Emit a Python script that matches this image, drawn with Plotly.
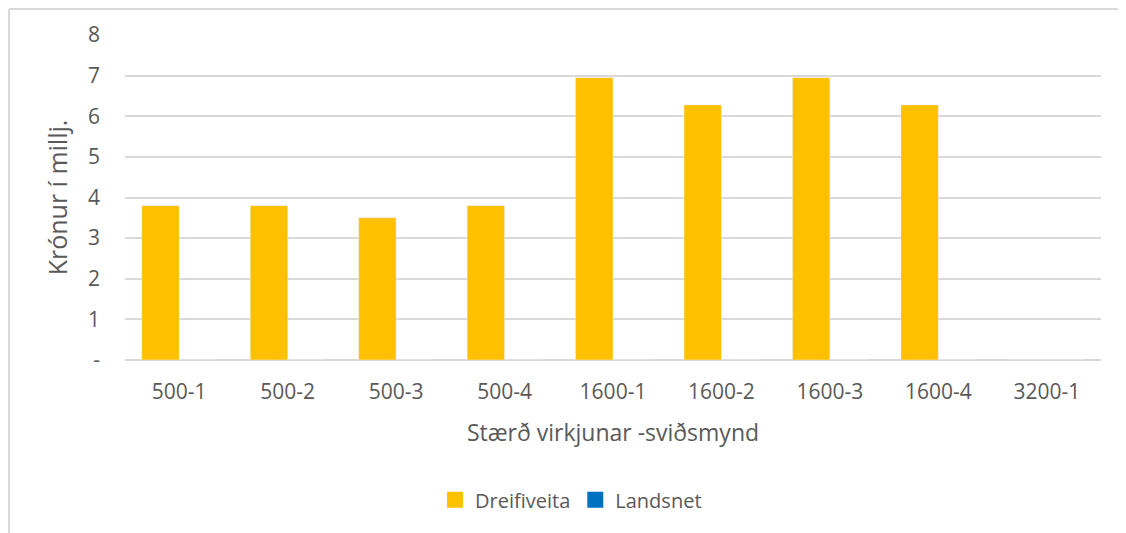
import plotly.graph_objects as go

categories = ["500-1", "500-2", "500-3", "500-4", "1600-1", "1600-2", "1600-3", "1600-4", "3200-1"]
dreifiveita = [3.8, 3.8, 3.5, 3.8, 6.95, 6.28, 6.95, 6.28, 0]
landsnet = [0, 0, 0, 0, 0, 0, 0, 0, 0]
y_ticks = [0, 1, 2, 3, 4, 5, 6, 7, 8]
y_labels = ["-", "1", "2", "3", "4", "5", "6", "7", "8"]

FONT = "Open Sans, sans-serif"
GREY = "#595959"
YELLOW = "#FFC000"
BLUE = "#0070C0"

fig = go.Figure()
fig.add_trace(go.Bar(x=categories, y=dreifiveita, name="Dreifiveita", marker_color=YELLOW, showlegend=False))
fig.add_trace(go.Bar(x=categories, y=landsnet, name="Landsnet", marker_color=BLUE, showlegend=False))

# legend entries with bigger square swatches
for name, col in [("Dreifiveita", YELLOW), ("Landsnet", BLUE)]:
    fig.add_trace(go.Scatter(
        x=[None], y=[None], mode="markers", name=name,
        marker=dict(symbol="square", size=17, color=col),
    ))

fig.update_layout(
    width=1126,
    height=533,
    barmode="group",
    bargap=0.31,
    bargroupgap=0,
    plot_bgcolor="white",
    paper_bgcolor="white",
    margin=dict(l=117, r=33, t=27, b=181),
    font=dict(family=FONT, color=GREY, size=21),
    legend=dict(
        orientation="h",
        x=0.457,
        xanchor="center",
        y=-0.37,
        yanchor="top",
        font=dict(size=20, color=GREY),
        itemsizing="trace",
        itemwidth=30,
        tracegroupgap=0,
    ),
    xaxis=dict(
        type="category",
        title=dict(text="Stærð virkjunar -sviðsmynd", font=dict(size=23, color=GREY), standoff=20),
        tickfont=dict(size=21, color=GREY),
        ticklabelstandoff=17,
        showgrid=False,
        showline=False,
        ticks="",
    ),
    yaxis=dict(
        title=dict(text="Krónur í millj.", font=dict(size=25, color=GREY), standoff=13),
        range=[0, 8],
        tickvals=y_ticks,
        ticktext=y_labels,
        tickfont=dict(size=21, color=GREY),
        ticklabelstandoff=24,
        showgrid=True,
        gridcolor="#D9D9D9",
        gridwidth=1.5,
        zeroline=True,
        zerolinecolor="#D9D9D9",
        zerolinewidth=1.5,
        ticks="",
    ),
    # outer chart-area frame (top and left edges)
    shapes=[
        dict(type="line", xref="paper", yref="paper", x0=-0.1188, x1=1.05, y0=1.080, y1=1.080,
             line=dict(color="#D9D9D9", width=2)),
        dict(type="line", xref="paper", yref="paper", x0=-0.1188, x1=-0.1188, y0=1.080, y1=-0.6,
             line=dict(color="#D9D9D9", width=2)),
    ],
)

fig.write_html("out.html")
